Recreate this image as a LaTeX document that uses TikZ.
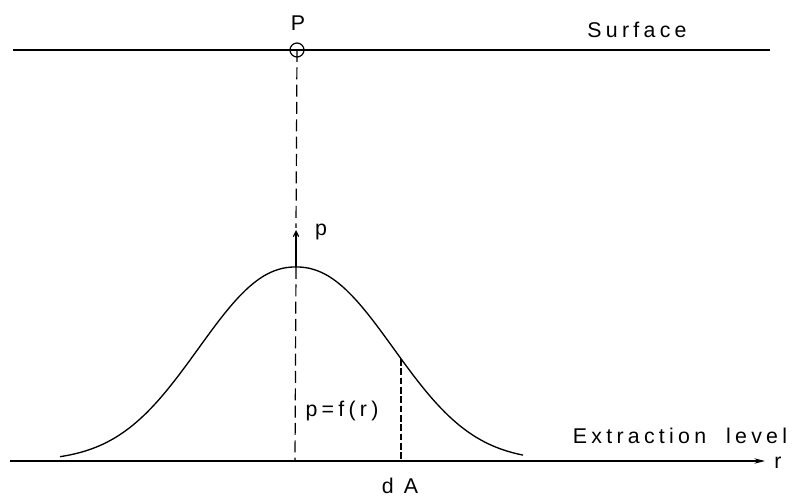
\documentclass[tikz,border=0pt]{standalone}
\usepackage{fontspec}
\setmainfont{Liberation Sans}
\usetikzlibrary{arrows.meta}
\begin{document}
\begin{tikzpicture}[x=0.75pt,y=-0.75pt,line width=0.9pt,
  lbl/.style={font=\fontsize{16}{19}\selectfont\addfontfeature{LetterSpace=20},inner sep=0pt},
  guide/.style={dash pattern=on 9pt off 4pt},
  fineguide/.style={dash pattern=on 5pt off 2pt}]
\useasboundingbox (0,0) rectangle (799,498);
% surface
\node[lbl] (P) at (298,23) {P};
\node[draw,circle,inner sep=0pt,minimum size=10.5pt] (C) at (297,50) {};
\coordinate (SL) at (13,50);
\coordinate (SR) at (770,50);
\draw (SL) -- (SR);
\node[lbl] (surf) at (637,30) {Surface};
% vertical axis
\coordinate (Top) at (296,228);
\coordinate (Tip) at (296,230);
\coordinate (Peak) at (296,267);
\coordinate (B) at (295,461);
\draw[guide] (C.center) -- (Top);
\draw[-{Straight Barb[length=4pt,width=4pt]}] (Peak) -- (Tip);
\draw[guide] (Peak) -- (B);
\node[lbl] (p) at (321,232) {p};
% curve
\draw[line width=1pt] plot[domain=60:523,samples=120,smooth]
  (\x,{461-194*exp(-(pow(abs(\x-296)/128.6+0.0001,2.2)))});
% dA line
\coordinate (Q) at (401,359);
\coordinate (QB) at (401,461);
\draw[fineguide] (Q) -- (QB);
\node[lbl] (pf) at (342,411) {p=f(r)};
\node[lbl] (dA) at (400,486) {d A};
% extraction level
\coordinate (EL) at (10,461);
\coordinate (ER) at (765,461);
\draw[-{Stealth[length=8pt,width=4pt]}] (EL) -- (ER);
\node[lbl] (r) at (778,463) {r};
\node[lbl] (ext) at (680,436) {Extraction\hspace{15pt}level};
\end{tikzpicture}
\end{document}
